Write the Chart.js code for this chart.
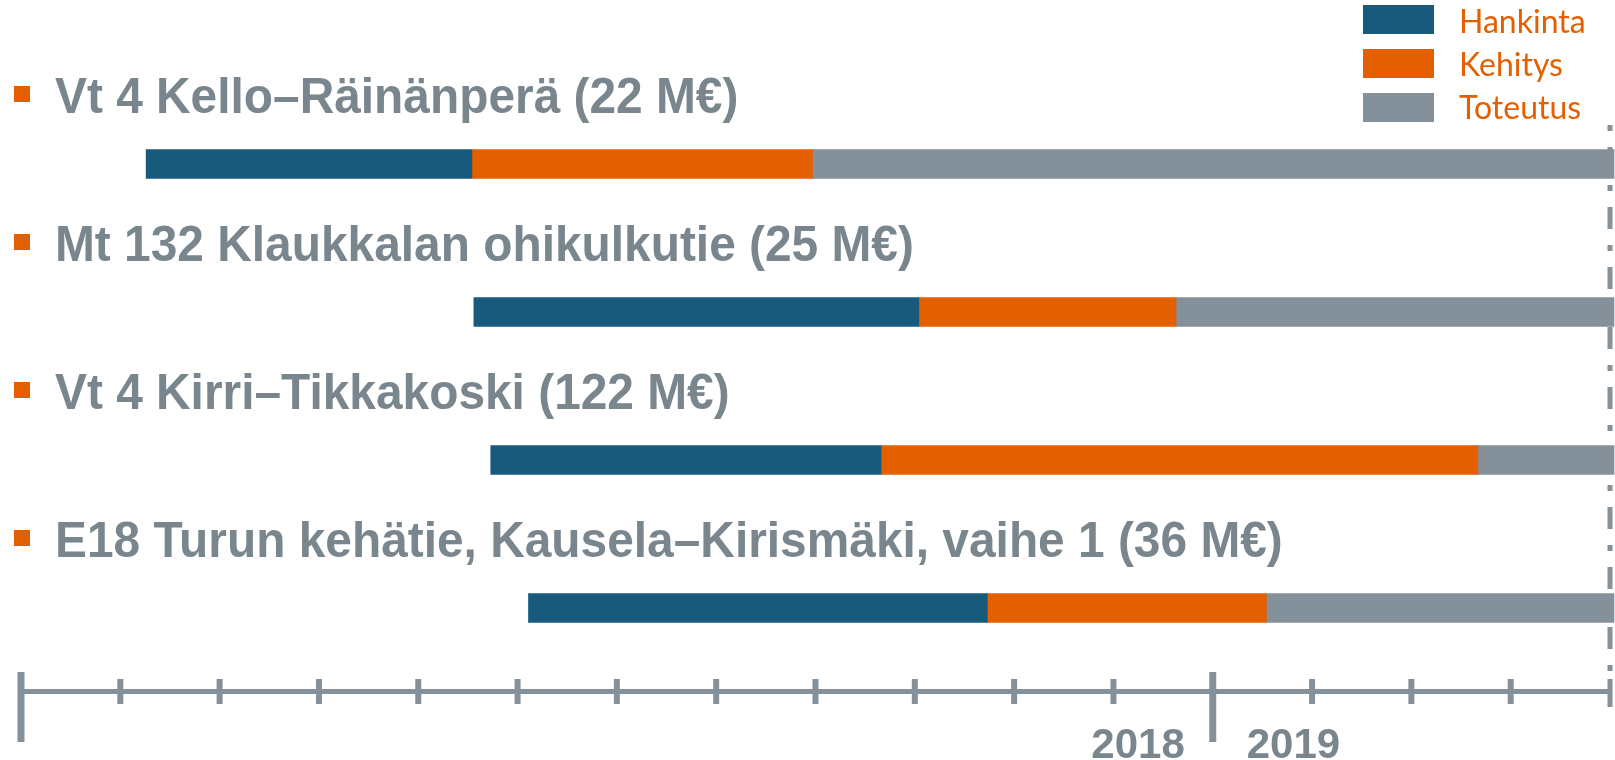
<!DOCTYPE html>
<html><head><meta charset="utf-8">
<script src="https://cdn.jsdelivr.net/npm/chart.js@4.4.1/dist/chart.umd.min.js"></script>
<style>html,body{margin:0;padding:0;background:#fff;overflow:hidden}#wrap{width:1615px;height:760px;position:relative}</style>
</head><body><div id="wrap"><canvas id="c" width="1615" height="760"></canvas></div>
<script>
// Projects (categories)
const projects = [
  'Vt 4 Kello–Räinänperä (22 M€)',
  'Mt 132 Klaukkalan ohikulkutie (25 M€)',
  'Vt 4 Kirri–Tikkakoski (122 M€)',
  'E18 Turun kehätie, Kausela–Kirismäki, vaihe 1 (36 M€)'
];
// Phase names (series)
const phases = ['Hankinta', 'Kehitys', 'Toteutus'];
// Phase spans in months counted from the start of 2018 [start, end]
const hankinta = [[1.26, 4.54], [4.56, 9.04], [4.73, 8.66], [5.11, 9.73]];
const kehitys  = [[4.54, 7.97], [9.04, 11.63], [8.66, 14.67], [9.73, 12.54]];
const toteutus = [[7.97, 16.04], [11.63, 16.04], [14.67, 16.04], [12.54, 16.04]];
// Axis ticks (months from start of 2018)
const monthTicks = [0, 1, 2, 3, 4, 5, 6, 7, 8, 9, 10, 11, 12, 13, 14, 15, 16];
const yearTicks = [0, 12];
const yearLabels = ['2018', '2019'];
const yearBoundary = 12;

const BLUE = '#175a7c', ORANGE = '#e35f00', GRAY = '#84919b', TEXT = '#7a868e';

const deco = {
  id: 'deco',
  beforeDatasetsDraw(chart) {
    const ctx = chart.ctx, x = chart.scales.x;
    const px = x.getPixelForValue(monthTicks[monthTicks.length - 1]);
    ctx.save();
    ctx.strokeStyle = GRAY; ctx.lineWidth = 5; ctx.lineCap = 'butt';
    ctx.setLineDash([6, 16, 22, 16]);
    ctx.beginPath(); ctx.moveTo(px, 125); ctx.lineTo(px, 680); ctx.stroke();
    ctx.restore();
  },
  afterDatasetsDraw(chart) {
    const ctx = chart.ctx, x = chart.scales.x, y = chart.scales.y;
    ctx.save();
    // project titles with bullets
    chart.data.labels.forEach((lab, i) => {
      const base = y.getPixelForValue(i) - 51;
      ctx.fillStyle = ORANGE;
      ctx.fillRect(14, base - 27, 16, 16);
      ctx.save();
      ctx.translate(55, base);
      ctx.scale(0.957, 1);
      ctx.fillStyle = TEXT;
      ctx.font = 'bold 50px "Liberation Sans", Arial, sans-serif';
      ctx.textBaseline = 'alphabetic'; ctx.textAlign = 'left';
      ctx.fillText(lab, 0, 0);
      ctx.restore();
    });
    // timeline axis
    const ax = 691.5;
    const x0 = x.getPixelForValue(monthTicks[0]);
    const x1 = x.getPixelForValue(monthTicks[monthTicks.length - 1]);
    ctx.fillStyle = GRAY;
    ctx.fillRect(x0, ax - 2.5, x1 - x0 + 2, 5);
    monthTicks.forEach(m => {
      const p = x.getPixelForValue(m);
      if (yearTicks.includes(m)) {
        ctx.fillRect(p - 3.5, 672, 7, 70);
      } else if (m === monthTicks[monthTicks.length - 1]) {
        ctx.fillRect(p - 2.5, 679, 5, 28);
      } else {
        ctx.fillRect(p - 3, 679, 6, 25);
      }
    });
    // year labels
    const pb = x.getPixelForValue(yearBoundary);
    ctx.fillStyle = TEXT;
    ctx.font = 'bold 42px "Liberation Sans", Arial, sans-serif';
    ctx.textBaseline = 'alphabetic';
    ctx.textAlign = 'right'; ctx.fillText(yearLabels[0], pb - 28, 758);
    ctx.textAlign = 'left'; ctx.fillText(yearLabels[1], pb + 34, 758);
    // legend
    ctx.font = '32px Lato, "Open Sans", sans-serif';
    chart.data.datasets.forEach((ds, i) => {
      ctx.fillStyle = ds.backgroundColor;
      ctx.fillRect(1363, 5 + i * 44, 71, 29);
      ctx.fillStyle = ORANGE;
      ctx.textAlign = 'left';
      ctx.fillText(ds.label, 1459, 33 + i * 43);
    });
    ctx.restore();
  }
};

new Chart(document.getElementById('c'), {
  type: 'bar',
  data: {
    labels: projects,
    datasets: [
      { label: phases[0], data: hankinta, backgroundColor: BLUE },
      { label: phases[1], data: kehitys, backgroundColor: ORANGE },
      { label: phases[2], data: toteutus, backgroundColor: GRAY }
    ]
  },
  options: {
    indexAxis: 'y',
    responsive: false,
    animation: false,
    datasets: { bar: { grouped: false, barThickness: 29, borderWidth: 0, borderSkipped: false, clip: false } },
    layout: { padding: { left: 21, right: 5, top: 90, bottom: 78 } },
    scales: {
      x: { type: 'linear', min: 0, max: 16, display: false },
      y: { display: false }
    },
    plugins: { legend: { display: false }, tooltip: { enabled: false } }
  },
  plugins: [deco]
});
</script>
</body></html>
